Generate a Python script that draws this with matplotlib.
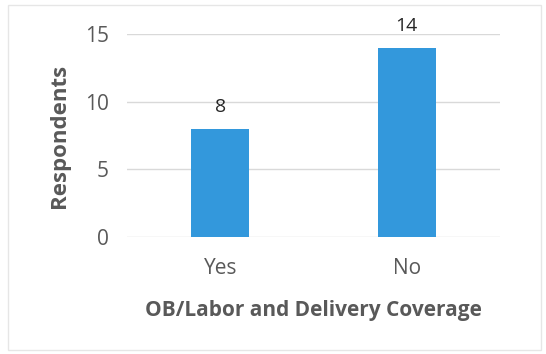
import matplotlib.pyplot as plt
from matplotlib.patches import Rectangle

# Datos del gráfico
categorias = ["Yes", "No"]
respuestas = [8, 14]
ticks_y = [0, 5, 10, 15]

plt.rcParams['font.family'] = ['Open Sans', 'DejaVu Sans']

fig = plt.figure(figsize=(5.46, 3.54), dpi=100)
ax = fig.add_axes([0.2326, 0.3305, 0.6832, 0.5735])

# Barras
ax.bar(categorias, respuestas, width=0.31, color="#3398dc", zorder=3)

# Etiquetas de valor encima de cada barra
for i, v in enumerate(respuestas):
    ax.text(i, v + 0.95, str(v), ha="center", va="bottom",
            fontsize=14, color="#262626")

ax.set_xlim(-0.5, 1.5)
ax.set_ylim(0, 15)
ax.set_yticks(ticks_y)
ax.grid(axis="y", color="#d9d9d9", linewidth=1, zorder=0)
for s in ax.spines.values():
    s.set_visible(False)
ax.tick_params(axis="both", length=0, labelsize=15, colors="#595959")
ax.tick_params(axis="x", pad=15)
ax.tick_params(axis="y", pad=13)

ax.set_ylabel("Respondents", fontsize=16, fontweight="bold",
              color="#595959", labelpad=11)
ax.set_xlabel("OB/Labor and Delivery Coverage", fontsize=15,
              fontweight="bold", color="#595959", labelpad=15)

# Marco tenue alrededor del gráfico
fig.patches.append(Rectangle((0.015, 0.012), 0.975, 0.975,
                             transform=fig.transFigure, fill=False,
                             edgecolor="#e6e6e6", linewidth=1))

fig.savefig("out.png", dpi=100)
